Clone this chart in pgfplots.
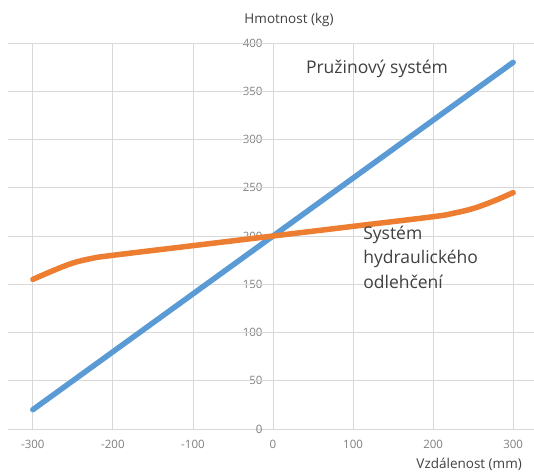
\documentclass[border=0pt]{standalone}
\usepackage{pgfplots}
\pgfplotsset{compat=1.18}
\usepackage{fontspec}
\setmainfont{Open Sans}
\definecolor{blueS}{HTML}{5B9BD5}
\definecolor{orangeS}{HTML}{ED7D31}
\definecolor{gridc}{HTML}{D9D9D9}
\definecolor{tickc}{HTML}{808080}
\definecolor{txtc}{HTML}{404040}
\begin{document}
\begin{tikzpicture}
\begin{axis}[
  at={(8bp,43bp)}, anchor=south west,
  scale only axis, width=526bp, height=386bp,
  xmin=-331, xmax=326, ymin=0, ymax=400,
  axis lines=middle,
  axis line style={draw=gridc, line width=0.8bp, -},
  xtick={-300,-200,...,300}, ytick={0,50,...,400},
  hide obscured x ticks=false, hide obscured y ticks=false,
  major tick length=0pt,
  grid=none,
  clip=false,
  /pgf/number format/assume math mode=true,
  ticklabel style={font=\fontsize{11.5bp}{13bp}\selectfont, text=tickc},
  xticklabel style={anchor=north, yshift=-8bp},
  yticklabel style={anchor=east, xshift=-7bp},
]
% grid lines
\foreach \yy in {50,100,...,400} {
  \edef\tmp{\noexpand\draw[gridc, line width=0.8bp] (axis cs:-331,\yy) -- (axis cs:326,\yy);}\tmp
}
\foreach \xx in {-300,-200,...,300} {
  \edef\tmp{\noexpand\draw[gridc, line width=0.8bp] (axis cs:\xx,0) -- (axis cs:\xx,400);}\tmp
}
\addplot[blueS, line width=5.5bp, line cap=round] coordinates {(-300,20) (300,380)};
\addplot[orangeS, line width=5.5bp, line cap=round, smooth, tension=0.6] coordinates {
(-300,155) (-275,164) (-250,172) (-225,177) (-200,180) (-100,190) (0,200) (100,210) (200,220) (225,223.5) (250,228.5) (275,236) (300,245)};
\node[font=\fontsize{13.5bp}{16bp}\selectfont, text=txtc, anchor=center] at (axis cs:20,424) {Hmotnost (kg)};
\node[font=\fontsize{13.5bp}{16bp}\selectfont, text=txtc, anchor=center] at (axis cs:245,-37) {Vzdálenost (mm)};
\node[font=\fontsize{17.5bp}{20bp}\selectfont, text=txtc, anchor=base west, inner sep=0pt] at (axis cs:41,368) {Pružinový systém};
\node[font=\fontsize{17.5bp}{20bp}\selectfont, text=txtc, anchor=base west, inner sep=0pt] at (axis cs:112.5,196) {Systém};
\node[font=\fontsize{17.5bp}{20bp}\selectfont, text=txtc, anchor=base west, inner sep=0pt] at (axis cs:112.5,171) {hydraulického};
\node[font=\fontsize{17.5bp}{20bp}\selectfont, text=txtc, anchor=base west, inner sep=0pt] at (axis cs:112.5,146) {odlehčení};
\end{axis}
\pgfresetboundingbox
\path[use as bounding box] (0,0) rectangle (534bp,472bp);
\end{tikzpicture}
\end{document}
